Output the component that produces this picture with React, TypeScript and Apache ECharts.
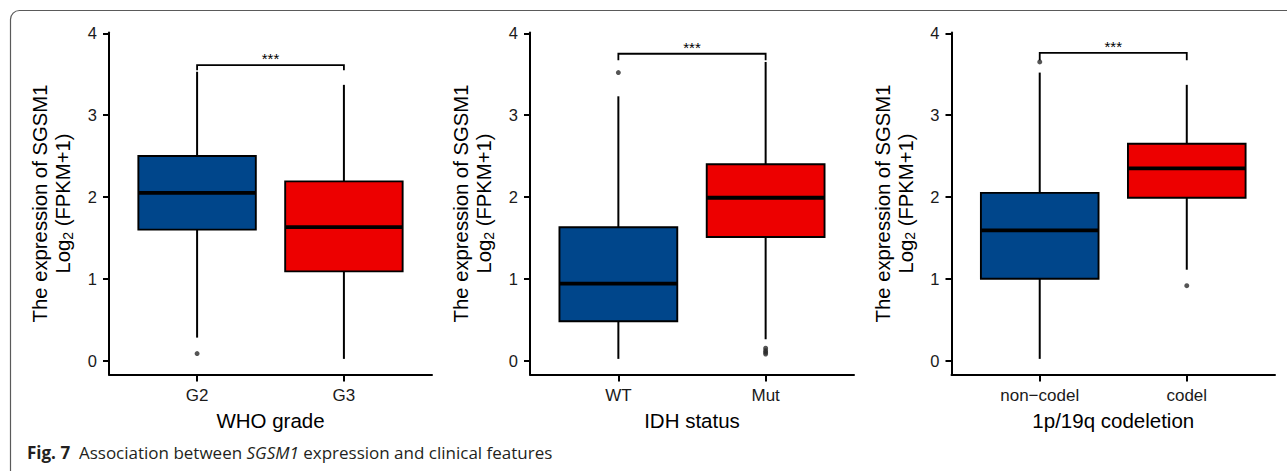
import React, { useEffect, useRef } from 'react';
import * as echarts from 'echarts';

const FONT = "'Liberation Sans', Arial, Helvetica, sans-serif";
const CAPTION_FONT = "'Open Sans', 'Noto Sans', sans-serif";

// ---- data ----
const whoCategories = ['G2', 'G3'];
// [x, lowerWhisker, Q1, median, Q3, upperWhisker]
const whoBoxes = [
  [1, 0.28, 1.6, 2.05, 2.5, 3.53],
  [2, 0.02, 1.09, 1.63, 2.19, 3.37],
];
const whoOutliers = [[1, 0.085]];
// [x1, x2, barY, tipY]
const whoBracket = [[1, 2, 3.61, 3.55]];

const idhCategories = ['WT', 'Mut'];
const idhBoxes = [
  [1, 0.02, 0.48, 0.94, 1.63, 3.23],
  [2, 0.26, 1.51, 1.99, 2.4, 3.65],
];
const idhOutliers = [[1, 3.52], [2, 0.15], [2, 0.12], [2, 0.1], [2, 0.08]];
const idhBracket = [[1, 2, 3.75, 3.67]];

const codelCategories = ['non\u2212codel', 'codel'];
const codelBoxes = [
  [1, 0.02, 1.0, 1.59, 2.05, 3.52],
  [2, 1.11, 1.99, 2.35, 2.65, 3.37],
];
const codelOutliers = [[1, 3.65], [2, 0.915]];
const codelBracket = [[1, 2, 3.76, 3.67]];

const xTickValues = [1, 2];
const yTickValues = [0, 1, 2, 3, 4];
const significance = '***';
const xTitles = ['WHO grade', 'IDH status', '1p/19q codeletion'];
const yTitleLine1 = 'The expression of SGSM1';
const captionBold = 'Fig. 7';
const captionPre = '  Association between ';
const captionItalic = 'SGSM1';
const captionPost = ' expression and clinical features';

// ---- styles ----
const BOX_COLORS = ['#00468B', '#ED0000'];
const PANELS = [
  { left: 109, width: 323, cats: whoCategories, boxes: whoBoxes, outliers: whoOutliers, bracket: whoBracket },
  { left: 530, width: 324, cats: idhCategories, boxes: idhBoxes, outliers: idhOutliers, bracket: idhBracket },
  { left: 951.5, width: 323.5, cats: codelCategories, boxes: codelBoxes, outliers: codelOutliers, bracket: codelBracket },
];
const GRID_TOP = 32.5;
const GRID_HEIGHT = 342;
const HALF_BOX = 0.4;
const LINE_W = 2;

function boxRenderer(params: any, api: any) {
  const x = api.value(0);
  const lo = api.value(1);
  const q1 = api.value(2);
  const med = api.value(3);
  const q3 = api.value(4);
  const hi = api.value(5);
  const top = api.coord([x, hi]);
  const bot = api.coord([x, lo]);
  const pq3 = api.coord([x, q3]);
  const pq1 = api.coord([x, q1]);
  const tl = api.coord([x - HALF_BOX, q3]);
  const br = api.coord([x + HALF_BOX, q1]);
  const ml = api.coord([x - HALF_BOX, med]);
  const mr = api.coord([x + HALF_BOX, med]);
  const stroke = { stroke: '#000', lineWidth: LINE_W };
  return {
    type: 'group',
    children: [
      { type: 'line', shape: { x1: top[0], y1: top[1], x2: pq3[0], y2: pq3[1] }, style: stroke },
      { type: 'line', shape: { x1: pq1[0], y1: pq1[1], x2: bot[0], y2: bot[1] }, style: stroke },
      {
        type: 'rect',
        shape: { x: tl[0], y: tl[1], width: br[0] - tl[0], height: br[1] - tl[1] },
        style: { fill: BOX_COLORS[params.dataIndex % BOX_COLORS.length], stroke: '#000', lineWidth: 1.9 },
      },
      { type: 'line', shape: { x1: ml[0], y1: ml[1], x2: mr[0], y2: mr[1] }, style: { stroke: '#000', lineWidth: 3.8 } },
    ],
  };
}

function bracketRenderer(params: any, api: any) {
  const x1 = api.value(0);
  const x2 = api.value(1);
  const yb = api.value(2);
  const yt = api.value(3);
  const a = api.coord([x1, yt]);
  const b = api.coord([x1, yb]);
  const c = api.coord([x2, yb]);
  const d = api.coord([x2, yt]);
  const m = api.coord([(x1 + x2) / 2, yb]);
  return {
    type: 'group',
    children: [
      {
        type: 'polyline',
        shape: { points: [a, b, c, d] },
        style: { stroke: '#000', lineWidth: 1.8, fill: 'none' },
      },
      {
        type: 'text',
        x: m[0],
        y: m[1] + 1,
        style: {
          text: significance,
          fontFamily: FONT,
          fontSize: 15,
          fill: '#000',
          align: 'center',
          verticalAlign: 'bottom',
        },
      },
    ],
  };
}

export default function App() {
  const ref = useRef<HTMLDivElement>(null);

  useEffect(() => {
    if (!ref.current) return;
    const chart = echarts.init(ref.current, undefined, { renderer: 'svg' });

    const grid = PANELS.map((p) => ({
      left: p.left,
      top: GRID_TOP,
      width: p.width,
      height: GRID_HEIGHT,
      outerBoundsMode: 'none',
    }));

    const xAxis = PANELS.map((p, i) => ({
      gridIndex: i,
      type: 'value',
      min: 0.4,
      max: 2.6,
      splitLine: { show: false },
      axisLine: { show: true, onZero: false, lineStyle: { color: '#000', width: LINE_W } },
      axisTick: { show: true, customValues: xTickValues, length: 7, lineStyle: { color: '#000', width: LINE_W } },
      axisLabel: {
        customValues: xTickValues,
        formatter: (v: number) => p.cats[Math.round(v) - 1] ?? '',
        margin: 12,
        fontSize: 17,
        color: '#1a1a1a',
        fontFamily: FONT,
      },
      name: xTitles[i],
      nameLocation: 'middle',
      nameGap: 35,
      nameTextStyle: { fontSize: 20.5, color: '#000', fontFamily: FONT },
    }));

    const yAxis = PANELS.map((p, i) => ({
      gridIndex: i,
      type: 'value',
      min: -0.171,
      max: 4.01,
      splitLine: { show: false },
      axisLine: { show: true, onZero: false, lineStyle: { color: '#000', width: LINE_W } },
      axisTick: { show: true, customValues: yTickValues, length: 6, lineStyle: { color: '#000', width: LINE_W } },
      axisLabel: {
        customValues: yTickValues,
        formatter: (v: number) => String(v),
        margin: 12,
        fontSize: 16.5,
        color: '#1a1a1a',
        fontFamily: FONT,
      },
      name: `{t|${yTitleLine1}}\n{t|Log}{s|2}{t| (FPKM+1)}`,
      nameLocation: 'middle',
      nameGap: 34.5,
      nameTextStyle: {
        color: '#000',
        fontFamily: FONT,
        rich: {
          t: { fontSize: 20.3, lineHeight: 23, fontFamily: FONT, color: '#000' },
          s: { fontSize: 14, lineHeight: 10, verticalAlign: 'bottom', fontFamily: FONT, color: '#000' },
        },
      },
    }));

    const series: any[] = [];
    PANELS.forEach((p, i) => {
      series.push({
        type: 'custom',
        xAxisIndex: i,
        yAxisIndex: i,
        data: p.boxes,
        encode: { x: 0, y: [1, 2, 3, 4, 5] },
        renderItem: boxRenderer,
        clip: false,
        z: 2,
      });
      series.push({
        type: 'scatter',
        xAxisIndex: i,
        yAxisIndex: i,
        data: p.outliers,
        symbol: 'circle',
        symbolSize: 5,
        itemStyle: { color: '#2a2a2a' },
        z: 3,
      });
      series.push({
        type: 'custom',
        xAxisIndex: i,
        yAxisIndex: i,
        data: p.bracket,
        encode: { x: [0, 1], y: [2, 3] },
        renderItem: bracketRenderer,
        clip: false,
        z: 4,
      });
    });

    chart.setOption({
      animation: false,
      backgroundColor: '#fff',
      grid,
      xAxis,
      yAxis,
      series,
      graphic: [
        {
          type: 'rect',
          silent: true,
          z: -10,
          shape: { x: 10.5, y: 10.5, width: 1500, height: 800, r: 9 },
          style: { fill: 'none', stroke: '#5a5a5a', lineWidth: 1.2 },
        },
        {
          type: 'text',
          x: 27,
          y: 452.5,
          style: {
            text: `{b|${captionBold}}{n|${captionPre}}{i|${captionItalic}}{n|${captionPost}}`,
            verticalAlign: 'middle',
            align: 'left',
            rich: {
              b: { fontFamily: CAPTION_FONT, fontWeight: 'bold', fontSize: 17, fill: '#231f20' },
              n: { fontFamily: CAPTION_FONT, fontSize: 17, fill: '#231f20' },
              i: { fontFamily: CAPTION_FONT, fontStyle: 'italic', fontSize: 17, fill: '#231f20' },
            },
          },
        },
      ],
    });

    return () => chart.dispose();
  }, []);

  return (
    <div
      ref={ref}
      style={{ position: 'fixed', left: 0, top: 0, width: 1287, height: 471, overflow: 'hidden', background: '#fff' }}
    />
  );
}
